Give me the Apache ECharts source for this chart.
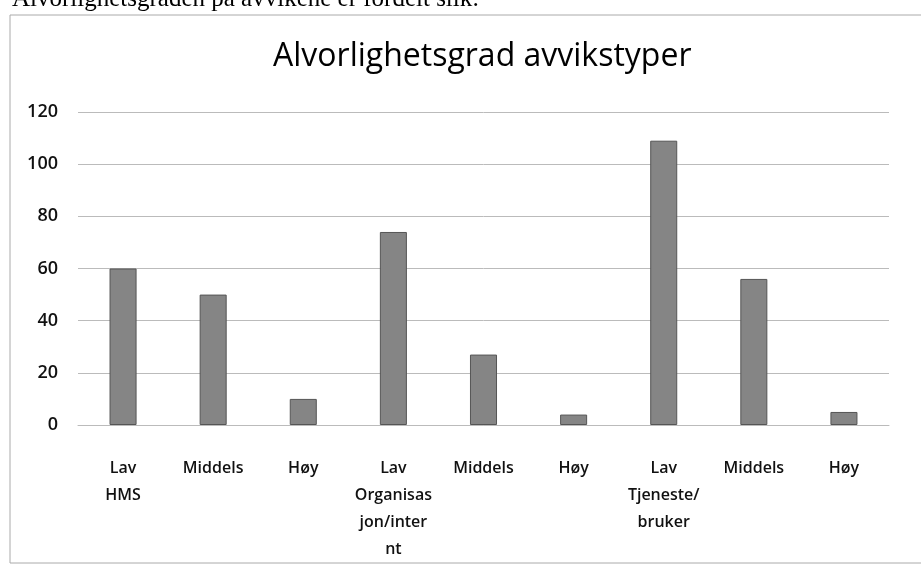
<!DOCTYPE html>
<html>
<head>
<meta charset="utf-8">
<script src="https://cdn.jsdelivr.net/npm/echarts@6/dist/echarts.min.js"></script>
<style>
  html, body { margin: 0; padding: 0; background: #fff; }
  #chart { width: 921px; height: 567px; }
</style>
</head>
<body>
<div id="chart"></div>
<script>
// categories (level / type) and counts
const categories = [
    'Lav\nHMS', 'Middels', 'Høy',
    'Lav\nOrganisas\njon/inter\nnt', 'Middels', 'Høy',
    'Lav\nTjeneste/\nbruker', 'Middels', 'Høy'
];
const counts = [60, 50, 10, 74, 27, 4, 109, 56, 5];
const yTicks = [0, 20, 40, 60, 80, 100, 120];

const chart = echarts.init(document.getElementById('chart'));

let option = {
    backgroundColor: '#fff',
    animation: false,
    title: {
        text: 'Alvorlighetsgrad avvikstyper',
        left: 268,
        top: 36,
        textStyle: {
            fontFamily: 'Open Sans',
            fontWeight: 'normal',
            fontSize: 32,
            color: '#000'
        }
    },
    graphic: [
        // surrounding chart frame
        {
            type: 'rect',
            shape: { x: 10, y: 15, width: 930, height: 548 },
            style: { fill: 'none', stroke: '#aaa', lineWidth: 1 }
        },
        // sentence from the page above, cut off by the scan
        {
            type: 'text',
            left: 12,
            top: -13,
            style: {
                text: 'Alvorlighetsgraden på avvikene er fordelt slik:',
                font: '25px "Liberation Serif"',
                fill: '#000'
            }
        }
    ],
    grid: {
        left: 78,
        right: 32,
        top: 112,
        bottom: 142
    },
    xAxis: {
        type: 'category',
        data: categories,
        axisTick: { show: false },
        axisLine: { lineStyle: { color: '#bbb' } },
        axisLabel: {
            interval: 0,
            margin: 30,
            lineHeight: 27,
            fontFamily: 'Open Sans',
            fontWeight: 600,
            fontSize: 16,
            color: '#111'
        }
    },
    yAxis: {
        type: 'value',
        min: 0,
        max: 120,
        interval: 20,
        axisLine: { show: false },
        axisTick: { show: false },
        axisLabel: {
            margin: 20,
            fontFamily: 'Open Sans',
            fontWeight: 600,
            fontSize: 18,
            color: '#111',
            formatter: v => yTicks.includes(v) ? String(v) : ''
        },
        splitLine: { lineStyle: { color: '#bbb', width: 1 } }
    },
    series: [
        {
            type: 'bar',
            data: counts,
            barWidth: '30%',
            itemStyle: {
                color: '#858585',
                borderColor: '#555',
                borderWidth: 1
            }
        }
    ]
};

chart.setOption(option);
</script>
</body>
</html>
